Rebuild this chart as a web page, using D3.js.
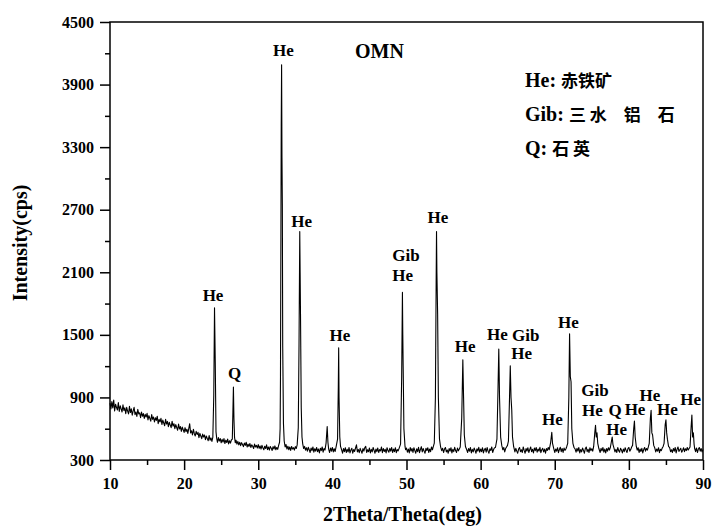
<!DOCTYPE html>
<html>
<head>
<meta charset="utf-8">
<script src="https://cdn.jsdelivr.net/npm/d3@7"></script>
<style>
body { margin: 0; background: #fff; }
text { font-family: "Liberation Serif", "Times New Roman", serif; font-weight: bold; fill: #000; }
.cjk { font-family: "Noto Sans CJK SC", sans-serif; font-weight: bold; }
.axis path { display: none; }
.axis line { stroke: #000; stroke-width: 1.5; }
</style>
</head>
<body>
<svg id="chart" width="713" height="527"></svg>
<script>
// XRD scan, [2theta, intensity in cps]
const scanLow = [
  [10.000,845],[10.125,790],[10.250,860],[10.375,800],[10.500,875],[10.625,770],[10.750,835],[10.875,805],
  [11.000,780],[11.125,850],[11.250,765],[11.375,820],[11.500,790],[11.625,760],[11.750,830],[11.875,775],
  [12.000,800],[12.125,745],[12.250,805],[12.375,768],[12.500,742],[12.625,815],[12.750,755],[12.875,790],
  [13.000,730],[13.125,770],[13.250,805],[13.375,735],[13.500,760],[13.625,718],[13.750,785],[13.875,742],
  [14.000,752],[14.125,705],[14.250,760],[14.375,720],[14.500,745],[14.625,698],[14.750,738],[14.875,712],
  [15.000,748],[15.125,685],[15.250,725],[15.375,700],[15.500,672],[15.625,735],[15.750,690],[15.875,712],
  [16.000,665],[16.125,705],[16.250,680],[16.375,720],[16.500,648],[16.625,690],[16.750,665],[16.875,700],
  [17.000,640],[17.125,682],[17.250,655],[17.375,628],[17.500,690],[17.625,645],[17.750,670],[17.875,620],
  [18.000,662],[18.125,635],[18.250,610],[18.375,672],[18.500,625],[18.625,648],[18.750,600],[18.875,640],
  [19.000,612],[19.125,585],[19.250,645],[19.375,598],[19.500,620],[19.625,575],[19.750,615],[19.875,590],
  [20.000,565],[20.125,610],[20.250,572],[20.375,595],[20.500,555],[20.625,600],[20.750,648],[20.875,560],
  [21.000,580],[21.125,540],[21.250,595],[21.375,552],[21.500,530],[21.625,575],[21.750,545],[21.875,565],
  [22.000,515],[22.125,555],[22.250,530],[22.375,505],[22.500,548],[22.625,520],[22.750,540],[22.875,495],
  [23.000,530],[23.125,505],[23.250,485],[23.375,535],[23.500,490],[23.625,512],[23.750,478],[23.875,520],
  [24.000,920],[24.100,1760],[24.200,1240],[24.300,570],[24.400,505],
  [24.500,470],[24.625,515],[24.750,482],[24.875,505],[25.000,465],[25.125,498],[25.250,472],[25.375,505],
  [25.500,458],[25.625,490],[25.750,468],[25.875,500],[26.000,455],[26.125,485],[26.250,462],[26.375,492],
  [26.500,500],[26.580,760],[26.650,1000],[26.720,700],[26.800,520],[26.900,465],
  [27.000,490],[27.125,452],[27.250,478],[27.375,445],[27.500,470],[27.625,438],[27.750,466],[27.875,448],
  [28.000,428],[28.125,462],[28.250,440],[28.375,470],[28.500,425],[28.625,452],[28.750,430],[28.875,458],
  [29.000,420],[29.125,445],[29.250,432],[29.375,410],[29.500,452],[29.625,425],[29.750,440],[29.875,415]
];

const scanMid = [
  [30.000,448],[30.125,412],[30.250,435],[30.375,405],[30.500,440],[30.625,418],[30.750,398],[30.875,432],
  [31.000,410],[31.125,445],[31.250,400],[31.375,425],[31.500,395],[31.625,430],[31.750,412],[31.875,392],
  [32.000,428],[32.125,405],[32.250,435],[32.375,398],[32.500,420],[32.625,402],[32.750,440],[32.875,470],
  [32.950,600],[33.000,1100],[33.100,3500],[33.150,4090],[33.200,3200],[33.250,2750],[33.300,1400],[33.400,650],
  [33.500,482],[33.625,425],[33.750,448],[33.875,405],[34.000,432],[34.125,398],[34.250,425],[34.375,392],
  [34.500,430],[34.625,405],[34.750,418],[34.875,395],[35.000,428],[35.125,410],[35.250,445],
  [35.400,610],[35.500,1400],[35.600,2490],[35.650,2100],[35.700,1700],[35.800,800],[35.900,520],[36.000,455],
  [36.125,410],[36.250,430],[36.375,395],[36.500,418],[36.625,385],[36.750,422],[36.875,398],[37.000,372],
  [37.125,415],[37.250,390],[37.375,425],[37.500,375],[37.625,408],[37.750,385],[37.875,420],[38.000,380],
  [38.125,405],[38.250,368],[38.375,412],[38.500,390],[38.625,425],[38.750,375],[38.875,410],[39.000,395],
  [39.150,462],[39.300,620],[39.400,470],[39.500,404],
  [39.625,372],[39.750,415],[39.875,385],[40.000,420],[40.125,378],[40.250,408],[40.375,382],[40.500,425],
  [40.700,500],[40.800,1000],[40.850,1377],[40.900,900],[41.000,520],[41.100,430],
  [41.250,398],[41.375,365],[41.500,410],[41.625,380],[41.750,418],[41.875,372],[42.000,402],[42.125,378],
  [42.250,420],[42.375,368],[42.500,395],[42.625,412],[42.750,365],[42.875,400],[43.000,382],[43.125,415],
  [43.250,445],[43.375,378],[43.500,400],[43.625,370],[43.750,412],[43.875,388],[44.000,365],[44.125,410],
  [44.250,385],[44.375,418],[44.500,430],[44.625,372],[44.750,398],[44.875,380],[45.000,415],[45.125,368],
  [45.250,402],[45.375,378],[45.500,420],[45.625,392],[45.750,365],[45.875,405],[46.000,380],[46.125,415],
  [46.250,372],[46.375,400],[46.500,388],[46.625,425],[46.750,370],[46.875,410],[47.000,382],[47.125,402],
  [47.250,368],[47.375,418],[47.500,390],[47.625,375],[47.750,412],[47.875,385],[48.000,420],[48.125,372],
  [48.250,405],[48.375,380],[48.500,418],[48.625,370],[48.750,400],[48.875,388],[49.000,412],
  [49.200,452],[49.350,1100],[49.450,1907],[49.500,1500],[49.550,1200],[49.650,600],[49.800,430],
  [49.875,398],[50.000,415],[50.125,375],[50.250,405],[50.375,368],[50.500,420],[50.625,385],[50.750,410],
  [50.875,372],[51.000,418],[51.125,390],[51.250,365],[51.375,408],[51.500,380],[51.625,422],[51.750,370],
  [51.875,400],[52.000,428],[52.125,378],[52.250,410],[52.375,385],[52.500,365],[52.625,412],[52.750,390],
  [52.875,418],[53.000,372],[53.125,405],[53.250,380],[53.375,425],[53.500,398],[53.625,430],[53.750,462],
  [53.900,900],[54.000,2000],[54.050,2490],[54.100,2100],[54.200,1700],[54.300,900],[54.450,500],[54.600,425],
  [54.750,390],[54.875,412],[55.000,372],[55.125,405],[55.250,420],[55.375,378],[55.500,395],[55.625,365],
  [55.750,410],[55.875,385],[56.000,418],[56.125,368],[56.250,402],[56.375,380],[56.500,422],[56.625,390],
  [56.750,372],[56.875,415],[57.000,388],[57.125,405],[57.250,425],
  [57.450,700],[57.600,1262],[57.700,900],[57.800,540],[57.950,430],
  [58.125,398],[58.250,372],[58.375,410],[58.500,385],[58.625,420],[58.750,368],[58.875,402],[59.000,378],
  [59.125,415],[59.250,392],[59.375,365],[59.500,408],[59.625,385],[59.750,422],[59.875,375]
];

const scanHigh = [
  [60.000,405],[60.125,380],[60.250,418],[60.375,368],[60.500,398],[60.625,412],[60.750,375],[60.875,420],
  [61.000,385],[61.125,365],[61.250,408],[61.375,392],[61.500,425],[61.625,372],[61.750,400],[61.875,418],
  [62.000,420],[62.200,500],[62.350,1000],[62.450,1364],[62.550,900],[62.700,520],[62.850,440],
  [63.000,398],[63.125,420],[63.250,378],[63.375,410],[63.500,425],[63.625,440],
  [63.750,480],[63.900,900],[64.000,1204],[64.100,900],[64.200,780],[64.300,520],[64.450,430],
  [64.625,378],[64.750,412],[64.875,385],[65.000,365],[65.125,405],[65.250,420],[65.375,380],[65.500,398],
  [65.625,372],[65.750,425],[65.875,392],[66.000,365],[66.125,410],[66.250,385],[66.375,418],[66.500,372],
  [66.625,400],[66.750,425],[66.875,380],[67.000,402],[67.125,368],[67.250,415],[67.375,390],[67.500,420],
  [67.625,375],[67.750,405],[67.875,385],[68.000,422],[68.125,370],[68.250,398],[68.375,412],[68.500,378],
  [68.625,405],[68.750,365],[68.875,410],[69.000,392],[69.125,420],[69.250,398],
  [69.450,470],[69.600,565],[69.700,460],[69.850,415],
  [70.000,372],[70.125,405],[70.250,385],[70.375,418],[70.500,370],[70.625,400],[70.750,422],[70.875,380],
  [71.000,410],[71.125,372],[71.250,415],[71.375,392],[71.500,405],[71.625,430],
  [71.750,460],[71.900,900],[72.000,1511],[72.100,1100],[72.200,1050],[72.300,600],[72.450,460],[72.600,420],
  [72.750,405],[72.875,375],[73.000,412],[73.125,385],[73.250,420],[73.375,368],[73.500,400],[73.625,378],
  [73.750,415],[73.875,392],[74.000,365],[74.125,410],[74.250,425],[74.375,380],[74.500,402],[74.625,372],
  [74.750,418],[74.875,390],[75.000,408],[75.125,385],[75.250,430],
  [75.400,560],[75.500,632],[75.600,520],[75.700,560],[75.800,460],[75.950,410],
  [76.125,372],[76.250,412],[76.375,388],[76.500,420],[76.625,375],[76.750,405],[76.875,368],[77.000,410],
  [77.125,385],[77.250,418],[77.375,395],[77.500,420],
  [77.650,480],[77.750,520],[77.850,450],
  [78.000,412],[78.125,378],[78.250,402],[78.375,372],[78.500,420],[78.625,390],[78.750,375],[78.875,412],
  [79.000,395],[79.125,368],[79.250,405],[79.375,380],[79.500,418],[79.625,392],[79.750,372],[79.875,410],
  [80.000,420],[80.125,385],[80.250,400],[80.375,425],
  [80.500,440],[80.650,600],[80.750,674],[80.850,520],[81.000,430],
  [81.125,395],[81.250,418],[81.375,372],[81.500,405],[81.625,382],[81.750,412],[81.875,368],[82.000,400],
  [82.125,420],[82.250,385],[82.375,410],[82.500,395],[82.625,425],
  [82.750,460],[82.900,700],[83.000,776],[83.100,560],[83.200,540],[83.350,440],
  [83.500,415],[83.625,378],[83.750,405],[83.875,385],[84.000,418],[84.125,370],[84.250,402],[84.375,390],
  [84.500,415],[84.625,430],
  [84.750,460],[84.900,640],[85.000,686],[85.100,560],[85.200,500],[85.350,430],
  [85.500,418],[85.625,380],[85.750,398],[85.875,372],[86.000,410],[86.125,385],[86.250,420],[86.375,368],
  [86.500,402],[86.625,425],[86.750,382],[86.875,398],[87.000,412],[87.125,375],[87.250,392],[87.375,418],
  [87.500,380],[87.625,408],[87.750,390],[87.875,420],[88.000,395],[88.125,410],[88.250,425],
  [88.400,620],[88.500,731],[88.600,520],[88.700,560],[88.800,450],
  [88.875,410],[89.000,380],[89.125,415],[89.250,372],[89.375,405],[89.500,420],[89.625,385],[89.750,410],
  [89.875,378],[90.000,400]
];

// phase labels: text, 2theta, intensity of the label baseline
const peakLabels = [
  ['He',23.9,1828],['Q',26.8,1077],['He',33.38,4170],['He',35.86,2530],['He',41.03,1444],
  ['Gib',49.93,2211],['He',49.49,2013],['He',54.25,2576],['He',57.9,1332],['He',62.25,1453],
  ['Gib',66.08,1444],['He',65.53,1271],['He',69.67,632],['He',71.83,1566],['Gib',75.43,910],
  ['He',75.07,718],['Q',78.13,718],['He',78.35,543],['He',80.83,734],['He',82.85,869],
  ['He',85.19,734],['He',88.33,830]
];

const xTicks = [10, 20, 30, 40, 50, 60, 70, 80, 90];
const xMinorTicks = [15, 25, 35, 45, 55, 65, 75, 85];
const yTicks = [300, 900, 1500, 2100, 2700, 3300, 3900, 4500];
const yMinorTicks = [600, 1200, 1800, 2400, 3000, 3600, 4200];

const legendCodes = ['He', 'Gib', 'Q'];
const legendNames = ['赤铁矿', '三 水　铝　石', '石 英'];
const sampleName = 'OMN';
const xTitle = '2Theta/Theta(deg)';
const yTitle = 'Intensity(cps)';

const margin = { top: 22, right: 10, bottom: 67, left: 110 };
const width = 713 - margin.left - margin.right;
const height = 527 - margin.top - margin.bottom;

const svg = d3.select('#chart');
const g = svg.append('g')
    .attr('transform', 'translate(' + margin.left + ',' + margin.top + ')');

const xScale = d3.scaleLinear().domain([10, 90]).range([0, width]);
const yScale = d3.scaleLinear().domain([300, 4500]).range([height, 0]);

// axes, major then minor
g.append('g').classed('axis', true)
    .attr('transform', 'translate(0,' + height + ')')
    .call(d3.axisBottom(xScale).tickValues(xTicks).tickSize(10).tickPadding(8).tickFormat(d3.format('d')))
    .selectAll('text').style('font-size', '16px');
g.append('g').classed('axis', true)
    .attr('transform', 'translate(0,' + height + ')')
    .call(d3.axisBottom(xScale).tickValues(xMinorTicks).tickSize(5).tickFormat(''));
g.append('g').classed('axis', true)
    .call(d3.axisLeft(yScale).tickValues(yTicks).tickSize(10).tickPadding(6).tickFormat(d3.format('d')))
    .selectAll('text').style('font-size', '16px');
g.append('g').classed('axis', true)
    .call(d3.axisLeft(yScale).tickValues(yMinorTicks).tickSize(5).tickFormat(''));

// the scan
const scan = scanLow.concat(scanMid, scanHigh);
const line = d3.line()
    .x(d => xScale(d[0]))
    .y(d => yScale(d[1]));
g.append('path')
    .datum(scan)
    .attr('d', line)
    .attr('fill', 'none')
    .attr('stroke', '#000')
    .attr('stroke-width', 1.1)
    .attr('stroke-linejoin', 'round');

// frame
g.append('rect')
    .attr('width', width)
    .attr('height', height)
    .attr('fill', 'none')
    .attr('stroke', '#000')
    .attr('stroke-width', 1.5);

// peak labels
g.selectAll('text.peak')
    .data(peakLabels)
    .enter().append('text')
    .classed('peak', true)
    .attr('x', d => xScale(d[1]))
    .attr('y', d => yScale(d[2]))
    .attr('text-anchor', 'middle')
    .style('font-size', '17px')
    .text(d => d[0]);

g.append('text')
    .attr('x', 245)
    .attr('y', 36)
    .style('font-size', '20px')
    .text(sampleName);

// legend
const legend = g.append('g').attr('transform', 'translate(415, 65)');
legendCodes.forEach((code, i) => {
    const t = legend.append('text')
        .attr('y', i * 34)
        .attr('xml:space', 'preserve')
        .style('font-size', '20px')
        .style('white-space', 'pre');
    t.append('tspan').text(code + ': ');
    t.append('tspan').classed('cjk', true).style('font-size', '17px').text(legendNames[i]);
});

// axis titles
svg.append('text')
    .attr('x', margin.left + width / 2 - 4)
    .attr('y', 521)
    .attr('text-anchor', 'middle')
    .style('font-size', '20px')
    .text(xTitle);
svg.append('text')
    .attr('transform', 'translate(27,' + 243 + ') rotate(-90)')
    .attr('text-anchor', 'middle')
    .style('font-size', '20px')
    .text(yTitle);
</script>
</body>
</html>
